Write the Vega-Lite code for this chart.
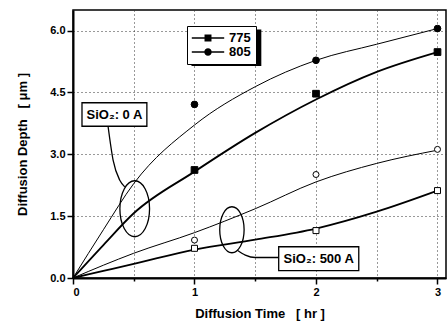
{
  "$schema": "https://vega.github.io/schema/vega-lite/v6.json",
  "autosize": {"type": "none"},
  "padding": {"left": 73, "top": 10, "right": 2, "bottom": 43},
  "width": 373,
  "height": 268,
  "background": "white",
  "config": {
    "view": {"stroke": "black", "strokeWidth": 1.5},
    "font": "Liberation Sans",
    "axis": {
      "labelFont": "Liberation Sans", "labelFontWeight": "bold", "labelFontSize": 11, "labelColor": "black",
      "titleFont": "Liberation Sans", "titleFontWeight": "bold", "titleFontSize": 13, "titleColor": "black",
      "domainColor": "black", "domainWidth": 2, "tickColor": "black", "tickWidth": 1.5,
      "grid": true, "gridColor": "#333", "gridDash": [1, 3], "gridWidth": 1, "gridOpacity": 1
    }
  },
  "datasets": {
    "points": [
      {"t": 1, "d": 4.21, "temp": "805", "oxide": "0 A"},
      {"t": 2, "d": 5.28, "temp": "805", "oxide": "0 A"},
      {"t": 3, "d": 6.05, "temp": "805", "oxide": "0 A"},
      {"t": 1, "d": 2.62, "temp": "775", "oxide": "0 A"},
      {"t": 2, "d": 4.47, "temp": "775", "oxide": "0 A"},
      {"t": 3, "d": 5.48, "temp": "775", "oxide": "0 A"},
      {"t": 1, "d": 0.92, "temp": "805", "oxide": "500 A"},
      {"t": 2, "d": 2.51, "temp": "805", "oxide": "500 A"},
      {"t": 3, "d": 3.12, "temp": "805", "oxide": "500 A"},
      {"t": 1, "d": 0.72, "temp": "775", "oxide": "500 A"},
      {"t": 2, "d": 1.15, "temp": "775", "oxide": "500 A"},
      {"t": 3, "d": 2.12, "temp": "775", "oxide": "500 A"}
    ],
    "curves": [
      {"t": 0, "d": 0, "temp": "805", "oxide": "0 A"},
      {"t": 0.25, "d": 1.17, "temp": "805", "oxide": "0 A"},
      {"t": 0.5, "d": 2.29, "temp": "805", "oxide": "0 A"},
      {"t": 1, "d": 3.71, "temp": "805", "oxide": "0 A"},
      {"t": 1.5, "d": 4.64, "temp": "805", "oxide": "0 A"},
      {"t": 2, "d": 5.28, "temp": "805", "oxide": "0 A"},
      {"t": 2.5, "d": 5.67, "temp": "805", "oxide": "0 A"},
      {"t": 3, "d": 6.05, "temp": "805", "oxide": "0 A"},
      {"t": 0, "d": 0, "temp": "775", "oxide": "0 A"},
      {"t": 0.25, "d": 0.8, "temp": "775", "oxide": "0 A"},
      {"t": 0.5, "d": 1.57, "temp": "775", "oxide": "0 A"},
      {"t": 1, "d": 2.58, "temp": "775", "oxide": "0 A"},
      {"t": 1.5, "d": 3.52, "temp": "775", "oxide": "0 A"},
      {"t": 2, "d": 4.33, "temp": "775", "oxide": "0 A"},
      {"t": 2.5, "d": 5.0, "temp": "775", "oxide": "0 A"},
      {"t": 3, "d": 5.48, "temp": "775", "oxide": "0 A"},
      {"t": 0, "d": 0, "temp": "805", "oxide": "500 A"},
      {"t": 0.25, "d": 0.31, "temp": "805", "oxide": "500 A"},
      {"t": 0.5, "d": 0.6, "temp": "805", "oxide": "500 A"},
      {"t": 1, "d": 1.1, "temp": "805", "oxide": "500 A"},
      {"t": 1.5, "d": 1.68, "temp": "805", "oxide": "500 A"},
      {"t": 2, "d": 2.33, "temp": "805", "oxide": "500 A"},
      {"t": 2.5, "d": 2.78, "temp": "805", "oxide": "500 A"},
      {"t": 3, "d": 3.1, "temp": "805", "oxide": "500 A"},
      {"t": 0, "d": 0, "temp": "775", "oxide": "500 A"},
      {"t": 0.25, "d": 0.17, "temp": "775", "oxide": "500 A"},
      {"t": 0.5, "d": 0.34, "temp": "775", "oxide": "500 A"},
      {"t": 1, "d": 0.69, "temp": "775", "oxide": "500 A"},
      {"t": 1.5, "d": 0.93, "temp": "775", "oxide": "500 A"},
      {"t": 2, "d": 1.2, "temp": "775", "oxide": "500 A"},
      {"t": 2.5, "d": 1.61, "temp": "775", "oxide": "500 A"},
      {"t": 3, "d": 2.12, "temp": "775", "oxide": "500 A"}
    ],
    "ellipses": [
      {"t": 0.508, "d": 1.68, "s": 3136},
      {"t": 1.308, "d": 1.17, "s": 2116}
    ],
    "leaders": [
      {"id": "a", "k": 0, "t": 0.289, "d": 3.67},
      {"id": "a", "k": 1, "t": 0.33, "d": 2.86},
      {"id": "a", "k": 2, "t": 0.385, "d": 2.37},
      {"id": "a", "k": 3, "t": 0.426, "d": 2.21},
      {"id": "b", "k": 0, "t": 1.349, "d": 0.68},
      {"id": "b", "k": 1, "t": 1.418, "d": 0.557},
      {"id": "b", "k": 2, "t": 1.5, "d": 0.497},
      {"id": "b", "k": 3, "t": 1.69, "d": 0.497}
    ],
    "boxes": [
      {"t1": 0.074, "t2": 0.608, "d1": 3.68, "d2": 4.25, "tc": 0.341, "dc": 3.965, "label": "SiO₂: 0 A"},
      {"t1": 1.693, "t2": 2.352, "d1": 0.177, "d2": 0.758, "tc": 2.022, "dc": 0.468, "label": "SiO₂: 500 A"}
    ],
    "shadow": [
      {"t1": 0.975, "t2": 1.55, "d1": 5.14, "d2": 6.03}
    ]
  },
  "layer": [
    {
      "data": {"name": "curves"},
      "transform": [{"filter": "datum.temp === '805'"}],
      "mark": {"type": "line", "interpolate": "monotone", "color": "black", "strokeWidth": 1},
      "encoding": {
        "x": {
          "field": "t", "type": "quantitative",
          "scale": {"domain": [0, 3.07], "nice": false, "zero": false},
          "axis": {
            "title": "Diffusion Time\u00a0\u00a0\u00a0[ hr ]",
            "values": [0, 0.5, 1, 1.5, 2, 2.5, 3],
            "labelExpr": "datum.value % 1 === 0 ? format(datum.value, 'd') : ''",
            "tickSize": {"condition": {"test": "datum.value % 1 === 0", "value": 6}, "value": 3},
            "labelPadding": 2,
            "titlePadding": 10,
            "grid": true
          }
        },
        "y": {
          "field": "d", "type": "quantitative",
          "scale": {"domain": [0, 6.5], "nice": false},
          "axis": {
            "title": "Diffusion Depth\u00a0\u00a0\u00a0[ μm ]",
            "values": [0, 0.75, 1.5, 2.25, 3, 3.75, 4.5, 5.25, 6],
            "labelExpr": "datum.value % 1.5 === 0 ? format(datum.value, '.1f') : ''",
            "tickSize": {"condition": {"test": "datum.value % 1.5 === 0", "value": 6}, "value": 3},
            "labelPadding": 2,
            "titlePadding": 20,
            "grid": true
          }
        },
        "detail": {"field": "oxide"}
      }
    },
    {
      "data": {"name": "curves"},
      "transform": [{"filter": "datum.temp === '775'"}],
      "mark": {"type": "line", "interpolate": "monotone", "color": "black", "strokeWidth": 1.8},
      "encoding": {
        "x": {"field": "t", "type": "quantitative"},
        "y": {"field": "d", "type": "quantitative"},
        "detail": {"field": "oxide"}
      }
    },
    {
      "data": {"name": "shadow"},
      "mark": {"type": "rect", "fill": "black"},
      "encoding": {
        "x": {"field": "t1", "type": "quantitative"},
        "x2": {"field": "t2"},
        "y": {"field": "d1", "type": "quantitative"},
        "y2": {"field": "d2"}
      }
    },
    {
      "data": {"name": "points"},
      "transform": [{"filter": "datum.temp === '775'"}],
      "mark": {"type": "point", "shape": "square", "filled": true, "stroke": "black", "strokeWidth": 1, "opacity": 1},
      "encoding": {
        "x": {"field": "t", "type": "quantitative"},
        "y": {"field": "d", "type": "quantitative"},
        "fill": {"field": "oxide", "type": "nominal", "legend": null, "scale": {"domain": ["0 A", "500 A"], "range": ["black", "white"]}},
        "size": {"field": "oxide", "type": "nominal", "legend": null, "scale": {"domain": ["0 A", "500 A"], "range": [45, 36]}}
      }
    },
    {
      "data": {"name": "points"},
      "transform": [{"filter": "datum.temp === '805'"}],
      "mark": {"type": "point", "shape": "circle", "filled": true, "stroke": "black", "strokeWidth": 1, "opacity": 1},
      "encoding": {
        "x": {"field": "t", "type": "quantitative"},
        "y": {"field": "d", "type": "quantitative"},
        "fill": {"field": "oxide", "type": "nominal", "legend": null},
        "size": {"field": "oxide", "type": "nominal", "legend": null}
      }
    },
    {
      "data": {"name": "points"},
      "transform": [{"filter": "datum.t < 0"}],
      "mark": {"type": "point", "filled": true, "color": "black", "opacity": 1},
      "encoding": {
        "x": {"field": "t", "type": "quantitative"},
        "y": {"field": "d", "type": "quantitative"},
        "shape": {
          "field": "temp", "type": "nominal",
          "scale": {"domain": ["775", "805"], "range": [
            "M-2.7,-0.13H-0.58V0.13H-2.7ZM0.58,-0.13H2.7V0.13H0.58ZM-0.58,-0.58H0.58V0.58H-0.58Z",
            "M-2.7,-0.13H-0.58V0.13H-2.7ZM0.58,-0.13H2.7V0.13H0.58ZM-0.62,0A0.62,0.62,0,1,1,0.62,0A0.62,0.62,0,1,1,-0.62,0Z"
          ]},
          "legend": {
            "title": null, "orient": "none", "legendX": 114, "legendY": 16,
            "strokeColor": "black", "fillColor": "white", "padding": 5,
            "symbolSize": 144, "symbolFillColor": "black", "symbolOpacity": 1, "symbolOffset": 9,
            "labelFont": "Liberation Sans", "labelFontWeight": "bold", "labelFontSize": 13, "labelColor": "black",
            "labelOffset": 14, "rowPadding": -3,
            "encode": {"legend": {"update": {"strokeWidth": {"value": 1.5}}}}
          }
        }
      }
    },
    {
      "data": {"name": "ellipses"},
      "mark": {"type": "point", "shape": "M0,-1A0.53,1,0,1,1,0,1A0.53,1,0,1,1,0,-1Z", "filled": false, "stroke": "black", "strokeWidth": 1.3, "opacity": 1},
      "encoding": {
        "x": {"field": "t", "type": "quantitative"},
        "y": {"field": "d", "type": "quantitative"},
        "size": {"field": "s", "type": "quantitative", "scale": null}
      }
    },
    {
      "data": {"name": "leaders"},
      "mark": {"type": "line", "interpolate": "monotone", "color": "black", "strokeWidth": 1.3},
      "encoding": {
        "x": {"field": "t", "type": "quantitative"},
        "y": {"field": "d", "type": "quantitative"},
        "detail": {"field": "id"},
        "order": {"field": "k"}
      }
    },
    {
      "data": {"name": "boxes"},
      "mark": {"type": "rect", "fill": "white", "stroke": "black", "strokeWidth": 1.3},
      "encoding": {
        "x": {"field": "t1", "type": "quantitative"},
        "x2": {"field": "t2"},
        "y": {"field": "d1", "type": "quantitative"},
        "y2": {"field": "d2"}
      }
    },
    {
      "data": {"name": "boxes"},
      "mark": {"type": "text", "font": "Liberation Sans", "fontWeight": "bold", "fontSize": 13, "color": "black", "align": "center", "baseline": "middle"},
      "encoding": {
        "x": {"field": "tc", "type": "quantitative"},
        "y": {"field": "dc", "type": "quantitative"},
        "text": {"field": "label"}
      }
    }
  ]
}
